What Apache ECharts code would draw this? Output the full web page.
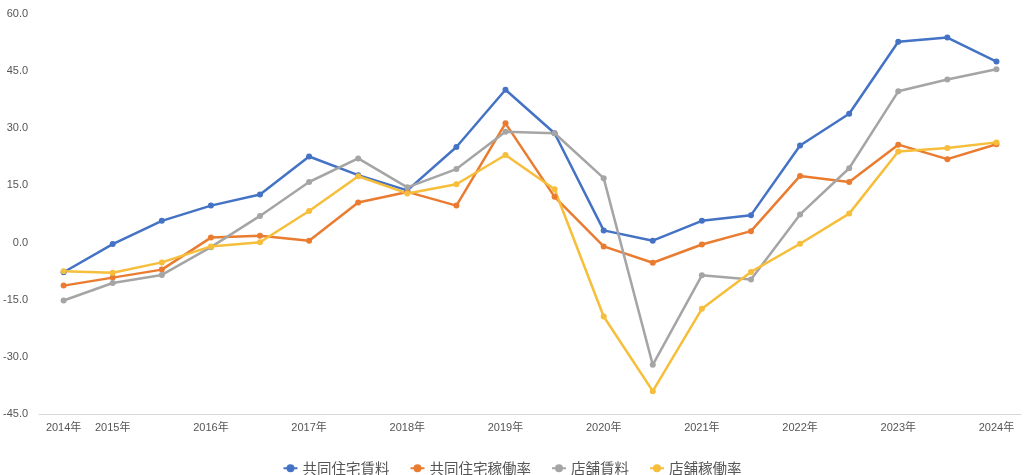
<!DOCTYPE html>
<html>
<head>
<meta charset="utf-8">
<script src="https://cdn.jsdelivr.net/npm/echarts@6/dist/echarts.min.js"></script>
<style>
  html, body { margin: 0; padding: 0; background: #fff; }
  #main { width: 1024px; height: 475px; }
</style>
</head>
<body>
<div id="main"></div>
<script>
// 半期ごとの点、ラベルは年のみ
var categories = ['2014年', '2015年', '', '2016年', '', '2017年', '', '2018年', '', '2019年', '',
  '2020年', '', '2021年', '', '2022年', '', '2023年', '', '2024年'];

var seriesNames = ['共同住宅賃料', '共同住宅稼働率', '店舗賃料', '店舗稼働率'];

var residentialRent = [-7.8, -0.4, 5.7, 9.7, 12.6, 22.6, 17.7, 13.7, 25.1, 40.1,
  28.7, 3.2, 0.5, 5.7, 7.2, 25.5, 33.8, 52.7, 53.8, 47.5];
var residentialOccupancy = [-11.3, -9.2, -7.1, 1.3, 1.8, 0.5, 10.5, 13.3, 9.7, 31.3,
  12.0, -1.0, -5.3, -0.5, 3.0, 17.5, 15.9, 25.7, 21.9, 25.8];
var storeRent = [-15.2, -10.6, -8.5, -1.2, 7.0, 15.9, 22.1, 14.5, 19.3, 29.1,
  28.7, 16.9, -32.1, -8.6, -9.7, 7.4, 19.5, 39.7, 42.8, 45.5];
var storeOccupancy = [-7.5, -7.9, -5.2, -1.0, 0.1, 8.3, 17.4, 12.9, 15.3, 23.0,
  14.0, -19.4, -39.0, -17.4, -7.7, -0.3, 7.6, 23.9, 24.8, 26.3];

var colors = ['#4472C4', '#E97C30', '#A5A5A5', '#F6BE3A'];

var chart = echarts.init(document.getElementById('main'));

function makeLine(name, data) {
  return {
    name: name,
    type: 'line',
    data: data,
    symbol: 'circle',
    symbolSize: 6,
    lineStyle: { width: 2.5 },
    emphasis: { disabled: true }
  };
}

var option = {
  animation: false,
  color: colors,
  textStyle: { fontFamily: 'Liberation Sans, "Noto Sans CJK JP", sans-serif' },
  grid: {
    left: 38,
    right: 3,
    top: 14,
    bottom: 61,
    containLabel: false
  },
  legend: {
    top: 456,
    left: 'center',
    itemGap: 20,
    itemWidth: 14,
    itemHeight: 10,
    textStyle: {
      fontSize: 14.5,
      color: '#555',
      fontFamily: '"Noto Sans CJK JP", sans-serif'
    },
    data: seriesNames
  },
  xAxis: {
    type: 'category',
    data: categories,
    boundaryGap: true,
    axisLine: { onZero: false, lineStyle: { color: '#d9d9d9', width: 1 } },
    axisTick: { show: false },
    axisLabel: {
      interval: 0,
      color: '#555',
      fontSize: 11,
      margin: 8,
      fontFamily: 'Liberation Sans, "Noto Sans CJK JP", sans-serif'
    },
    splitLine: { show: false }
  },
  yAxis: {
    type: 'value',
    min: -45,
    max: 60,
    interval: 15,
    axisLine: { show: false },
    axisTick: { show: false },
    splitLine: { show: false },
    axisLabel: {
      color: '#555',
      fontSize: 11,
      margin: 11,
      formatter: function (v) { return v.toFixed(1); }
    }
  },
  series: [
    makeLine(seriesNames[0], residentialRent),
    makeLine(seriesNames[1], residentialOccupancy),
    makeLine(seriesNames[2], storeRent),
    makeLine(seriesNames[3], storeOccupancy)
  ]
};

chart.setOption(option);
</script>
</body>
</html>
